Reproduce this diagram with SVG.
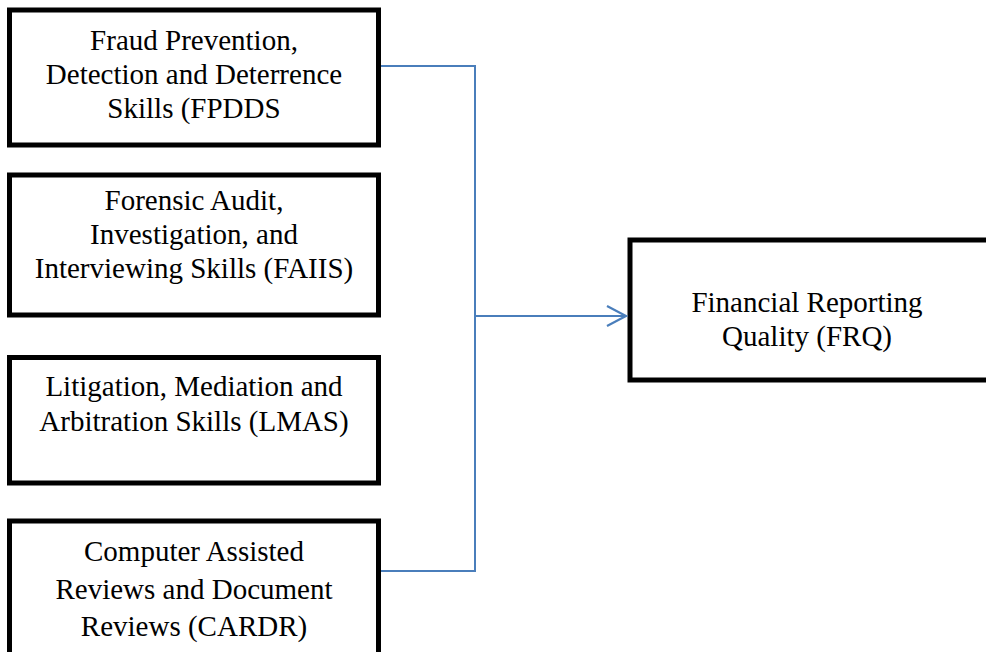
<svg xmlns="http://www.w3.org/2000/svg" width="986" height="652" viewBox="0 0 986 652">
<style>
.box{fill:#fff;stroke:#000;stroke-width:5}
.t{font-family:"Liberation Serif","Times New Roman",serif;font-size:29px;fill:#000;text-anchor:middle}
.c{fill:none;stroke:#4a7ebb;stroke-width:2}
</style>
<defs>
<marker id="arr" markerUnits="userSpaceOnUse" markerWidth="24" markerHeight="26" refX="20" refY="11" orient="auto" viewBox="0 0 24 26">
<path d="M1,1 L20,11 L1,21" fill="none" stroke="#4a7ebb" stroke-width="2.2"/>
</marker>
</defs>
<rect width="986" height="652" fill="#fff"/>
<g id="fpdds">
<rect class="box" x="9.5" y="10" width="369" height="135"/>
<text class="t" x="194" y="50">Fraud Prevention,</text>
<text class="t" x="194" y="84">Detection and Deterrence</text>
<text class="t" x="194" y="118">Skills (FPDDS</text>
</g>
<g id="faiis">
<rect class="box" x="9.5" y="175" width="369" height="140"/>
<text class="t" x="194" y="210">Forensic Audit,</text>
<text class="t" x="194" y="244">Investigation, and</text>
<text class="t" x="194" y="278">Interviewing Skills (FAIIS)</text>
</g>
<g id="lmas">
<rect class="box" x="9.5" y="357.5" width="369" height="125.5"/>
<text class="t" x="194" y="396">Litigation, Mediation and</text>
<text class="t" x="194" y="431">Arbitration Skills (LMAS)</text>
</g>
<g id="cardr">
<rect class="box" x="9.5" y="521" width="369" height="150"/>
<text class="t" x="194" y="561">Computer Assisted</text>
<text class="t" x="194" y="599">Reviews and Document</text>
<text class="t" x="194" y="636">Reviews (CARDR)</text>
</g>
<g id="frq">
<rect class="box" x="630" y="240" width="370" height="140"/>
<text class="t" x="807" y="312">Financial Reporting</text>
<text class="t" x="807" y="346">Quality (FRQ)</text>
</g>
<g id="connectors">
<path class="c" d="M381,66 H475 V571 H381"/>
<path class="c" d="M475,316 H626" marker-end="url(#arr)"/>
</g>
</svg>
